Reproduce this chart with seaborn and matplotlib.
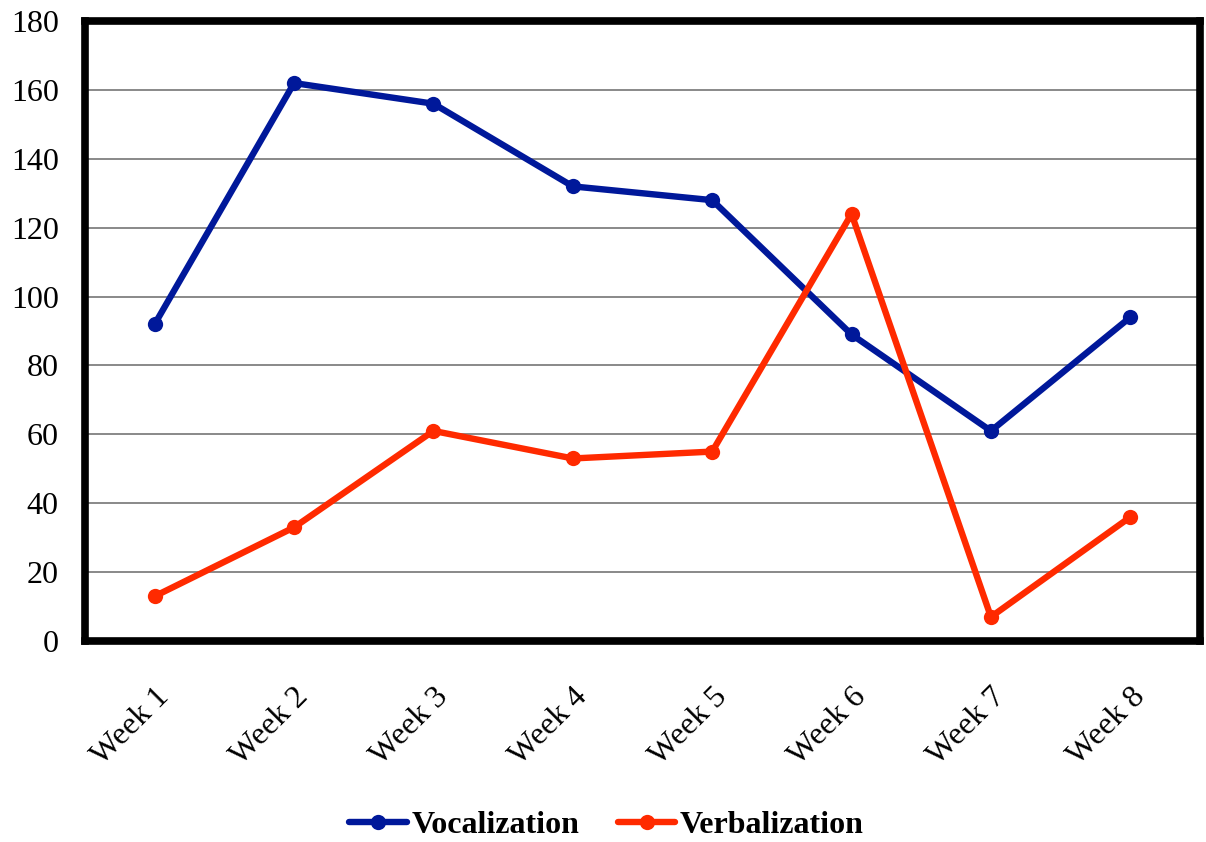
import pandas as pd
import matplotlib.pyplot as plt
import seaborn as sns

weeks = ["Week 1", "Week 2", "Week 3", "Week 4", "Week 5", "Week 6", "Week 7", "Week 8"]
vocalization = [92, 162, 156, 132, 128, 89, 61, 94]
verbalization = [13, 33, 61, 53, 55, 124, 7, 36]

df = pd.DataFrame({"Week": weeks * 2,
                   "Count": vocalization + verbalization,
                   "Series": ["Vocalization"] * len(weeks) + ["Verbalization"] * len(weeks)})

sns.set_style("white")
plt.rcParams["font.family"] = ["Liberation Serif", "DejaVu Serif"]
plt.rcParams["text.color"] = "black"
plt.rcParams["xtick.color"] = "black"
plt.rcParams["ytick.color"] = "black"

fig = plt.figure(figsize=(12.06, 8.42), dpi=100)
ax = fig.add_axes([0.0705, 0.2387, 0.9245, 0.7363])

palette = {"Vocalization": "#00189A", "Verbalization": "#FF2A00"}
sns.lineplot(data=df, x="Week", y="Count", hue="Series", palette=palette, marker="o",
             markersize=11, markeredgewidth=0, linewidth=4.6, sort=False, ax=ax)

ax.set_xlim(-0.5, 7.5)
ax.set_ylim(0, 180)
ax.set_yticks(range(0, 181, 20))
ax.yaxis.grid(True, color="#808080", linewidth=1.3)
ax.set_axisbelow(True)
ax.set_xlabel("")
ax.set_ylabel("")
for s in ax.spines.values():
    s.set_visible(True)
    s.set_color("black")
    s.set_linewidth(5.5)
    s.set_capstyle("projecting")

ax.tick_params(axis="both", length=0, labelsize=23, labelcolor="black")
ax.tick_params(axis="y", pad=19)
ax.tick_params(axis="x", pad=30)
plt.setp(ax.get_xticklabels(), rotation=45, ha="right", rotation_mode="anchor")

handles, labels = ax.get_legend_handles_labels()
ax.get_legend().remove()
fig.legend(handles, labels, loc="center", bbox_to_anchor=(0.503, 0.02), ncol=2, frameon=False,
           prop={"weight": "bold", "size": 23}, handlelength=1.8, handletextpad=0.15,
           columnspacing=1.2)

fig.savefig("out.png", dpi=100)
